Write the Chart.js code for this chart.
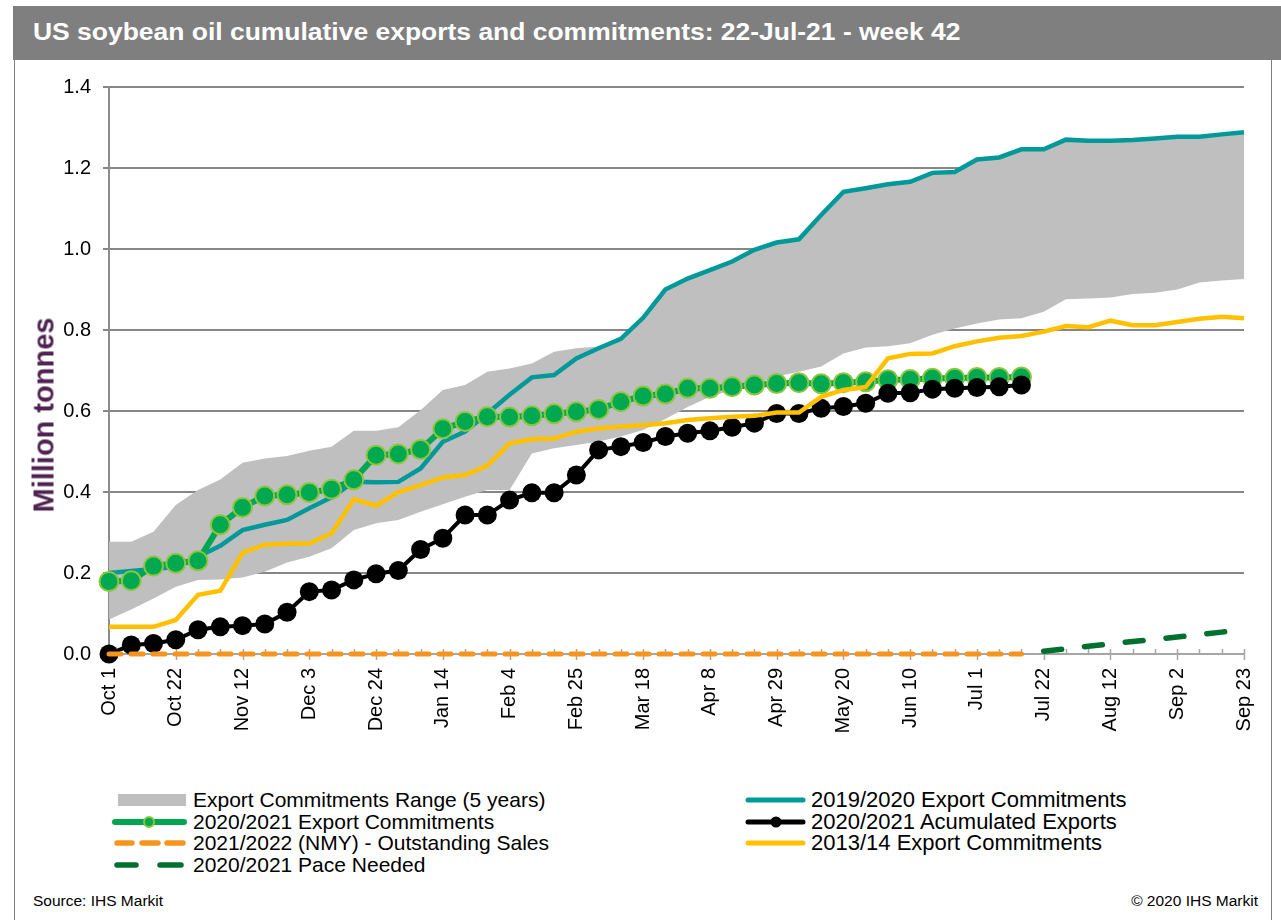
<!DOCTYPE html>
<html>
<head>
<meta charset="utf-8">
<title>US soybean oil cumulative exports and commitments</title>
<script src="https://cdn.jsdelivr.net/npm/chart.js@4.4.1/dist/chart.umd.min.js"></script>
<style>
  body { margin: 0; background: #fff; font-family: "Liberation Sans", Arial, sans-serif; }
  #page { position: relative; width: 1281px; height: 920px; overflow: hidden; }
  #frame { position: absolute; left: 14px; top: 6px; width: 1258px; height: 960px; border: 1.5px solid #7f7f7f; box-sizing: border-box; }
  #titlebar { position: absolute; left: 13px; top: 6px; width: 1268px; height: 54px; background: #7f7f7f; color: #fff;
              font-weight: bold; font-size: 23px; line-height: 53px; padding-left: 20px; box-sizing: border-box; white-space: nowrap; }
  #titlebar span { display: inline-block; transform: scaleX(1.15); transform-origin: 0 50%; }
  #wrap { position: absolute; left: 0; top: 60px; width: 1281px; height: 720px; }
  #ytitle { position: absolute; left: 44px; top: 415px; transform: translate(-50%, -50%) rotate(-90deg);
            font-weight: bold; font-size: 29px; color: #4e2350; white-space: nowrap; }
  .lg { position: absolute; height: 22px; white-space: nowrap; }
  .lg svg { position: absolute; left: 0; top: 0; }
  .lg span { position: absolute; top: 0; line-height: 22px; color: #000; }
  .foot { position: absolute; top: 892px; font-size: 15.5px; color: #000; white-space: nowrap; }
</style>
</head>
<body>
<div id="page">
  <div id="frame"></div>
  <div id="titlebar"><span>US soybean oil cumulative exports and commitments: 22-Jul-21 - week 42</span></div>
  <div id="wrap"><canvas id="myChart" width="1281" height="720"></canvas></div>
  <div id="ytitle">Million tonnes</div>
  <div id="legend"></div>
  <div class="foot" style="left:33px;">Source: IHS Markit</div>
  <div class="foot" style="right:23px;">© 2020 IHS Markit</div>
</div>
<script>
// weekly x axis, Oct 1 .. Sep 23
var weeks = ['Oct 1','Oct 8','Oct 15','Oct 22','Oct 29','Nov 5','Nov 12','Nov 19','Nov 26',
	'Dec 3','Dec 10','Dec 17','Dec 24','Dec 31','Jan 7','Jan 14','Jan 21','Jan 28',
	'Feb 4','Feb 11','Feb 18','Feb 25','Mar 4','Mar 11','Mar 18','Mar 25',
	'Apr 1','Apr 8','Apr 15','Apr 22','Apr 29','May 6','May 13','May 20','May 27',
	'Jun 3','Jun 10','Jun 17','Jun 24','Jul 1','Jul 8','Jul 15','Jul 22','Jul 29',
	'Aug 5','Aug 12','Aug 19','Aug 26','Sep 2','Sep 9','Sep 16','Sep 23'];

var seriesNames = [
	'Export Commitments Range (5 years)',
	'2020/2021 Export Commitments',
	'2021/2022 (NMY) - Outstanding Sales',
	'2020/2021 Pace Needed',
	'2019/2020 Export Commitments',
	'2020/2021 Acumulated Exports',
	'2013/14 Export Commitments'
];

var rangeLow = [0.085,0.11,0.137,0.166,0.183,0.184,0.189,0.203,0.226,0.24,0.261,0.306,0.323,0.331,
	0.351,0.37,0.388,0.405,0.405,0.495,0.508,0.516,0.525,0.537,0.553,0.58,0.61,0.635,0.652,0.664,
	0.685,0.697,0.71,0.742,0.757,0.76,0.767,0.788,0.804,0.816,0.826,0.829,0.845,0.876,0.878,0.88,
	0.889,0.892,0.9,0.917,0.922,0.926];

var rangeHigh = [0.277,0.277,0.302,0.368,0.405,0.431,0.472,0.483,0.489,0.502,0.512,0.551,0.551,0.56,
	0.602,0.652,0.664,0.697,0.705,0.717,0.746,0.755,0.759,0.778,0.83,0.9,0.927,0.948,0.969,0.998,
	1.016,1.024,1.084,1.141,1.15,1.16,1.166,1.188,1.19,1.221,1.226,1.246,1.246,1.27,1.267,1.267,
	1.269,1.273,1.277,1.277,1.283,1.288];

var commit1920 = [0.2,0.205,0.21,0.215,0.24,0.267,0.306,0.319,0.331,0.36,0.387,0.425,0.424,0.425,
	0.458,0.524,0.549,0.594,0.64,0.683,0.689,0.73,0.755,0.778,0.83,0.9,0.927,0.948,0.969,0.998,
	1.016,1.024,1.084,1.141,1.15,1.16,1.166,1.188,1.19,1.221,1.226,1.246,1.246,1.27,1.267,1.267,
	1.269,1.273,1.277,1.277,1.283,1.288];

var commit2021 = [0.179,0.181,0.217,0.224,0.23,0.319,0.362,0.39,0.393,0.399,0.407,0.43,0.491,0.494,
	0.505,0.556,0.574,0.586,0.585,0.588,0.593,0.598,0.604,0.623,0.637,0.642,0.656,0.656,0.66,0.664,
	0.668,0.67,0.667,0.67,0.672,0.677,0.678,0.681,0.681,0.683,0.683,0.684];

var exports2021 = [0,0.022,0.026,0.035,0.06,0.067,0.07,0.074,0.103,0.154,0.158,0.183,0.198,0.206,
	0.258,0.286,0.343,0.343,0.38,0.398,0.398,0.442,0.504,0.512,0.522,0.537,0.545,0.551,0.56,0.57,
	0.594,0.594,0.607,0.611,0.619,0.644,0.645,0.654,0.656,0.658,0.66,0.664];

var commit1314 = [0.067,0.067,0.067,0.084,0.146,0.156,0.25,0.27,0.272,0.273,0.298,0.382,0.366,0.4,
	0.417,0.436,0.442,0.465,0.52,0.53,0.532,0.549,0.557,0.562,0.565,0.57,0.578,0.582,0.586,0.588,
	0.596,0.596,0.635,0.652,0.659,0.73,0.741,0.742,0.76,0.772,0.781,0.785,0.796,0.81,0.807,0.823,
	0.812,0.812,0.82,0.828,0.833,0.829];

var outstanding2122 = [0,0,0,0,0,0,0,0,0,0,0,0,0,0,0,0,0,0,0,0,0,0,0,0,0,0,0,0,0,0,0,0,0,0,0,0,0,0,0,0,0,0];

var paceNeeded = [null,null,null,null,null,null,null,null,null,null,null,null,null,null,
	null,null,null,null,null,null,null,null,null,null,null,null,null,null,null,null,
	null,null,null,null,null,null,null,null,null,null,null,null,
	0.007,0.013,0.019,0.025,0.031,0.036,0.042,0.048,0.054,0.06];

var yTicks = { min: 0, max: 1.4, step: 0.2 };

// small weekly tick marks on the category axis (long ones under the labels)
var weekTicks = {
	id: 'weekTicks',
	beforeDatasetsDraw: function (chart) {
		var ctx = chart.ctx;
		var x = chart.scales.x;
		var bottom = chart.chartArea.bottom;
		ctx.save();
		ctx.strokeStyle = '#a6a6a6';
		ctx.lineWidth = 1.5;
		for (var i = 0; i < x.ticks.length; i++) {
			var px = Math.round(x.getPixelForTick(i)) + 0.5;
			ctx.beginPath();
			ctx.moveTo(px, bottom - 5);
			ctx.lineTo(px, i % 3 === 0 ? bottom + 6 : bottom);
			ctx.stroke();
		}
		ctx.restore();
	}
};

var lineBase = { pointRadius: 0, tension: 0, fill: false, clip: false };

var myChart = new Chart('myChart', {
	type: 'line',
	data: {
		labels: weeks,
		datasets: [
			Object.assign({}, lineBase, { label: 'range low', data: rangeLow, borderWidth: 0, borderColor: 'rgba(0,0,0,0)', order: 10 }),
			Object.assign({}, lineBase, { label: seriesNames[0], data: rangeHigh, borderWidth: 0, borderColor: 'rgba(0,0,0,0)',
				fill: '-1', backgroundColor: '#bfbfbf', order: 9 }),
			Object.assign({}, lineBase, { label: seriesNames[4], data: commit1920, borderColor: '#009999', borderWidth: 4.5, order: 6 }),
			Object.assign({}, lineBase, { label: seriesNames[1], data: commit2021, borderColor: '#00a651', borderWidth: 6,
				pointRadius: 9.5, pointBackgroundColor: '#00a84f', pointBorderColor: '#8cc63f', pointBorderWidth: 2, order: 5 }),
			Object.assign({}, lineBase, { label: seriesNames[5], data: exports2021, borderColor: '#000', borderWidth: 4,
				pointRadius: 9.5, pointBackgroundColor: '#000', pointBorderColor: '#000', pointBorderWidth: 0, order: 4 }),
			Object.assign({}, lineBase, { label: seriesNames[6], data: commit1314, borderColor: '#ffc000', borderWidth: 4.5, order: 3 }),
			Object.assign({}, lineBase, { label: seriesNames[2], data: outstanding2122, borderColor: '#f7941d', borderWidth: 5,
				borderDash: [12, 10], borderCapStyle: 'round', order: 2 }),
			Object.assign({}, lineBase, { label: seriesNames[3], data: paceNeeded, borderColor: '#00702e', borderWidth: 5.5,
				borderDash: [18, 23], borderCapStyle: 'round', order: 1 })
		]
	},
	options: {
		responsive: false,
		animation: false,
		devicePixelRatio: 1,
		events: [],
		layout: { padding: { left: 0, right: 37, top: 27, bottom: 0 } },
		plugins: { legend: { display: false }, tooltip: { enabled: false } },
		scales: {
			x: {
				offset: false,
				afterFit: function (scale) { scale.height = 126; },
				grid: { drawOnChartArea: false, drawTicks: true, tickLength: 10, color: 'rgba(0,0,0,0)' },
				border: { color: '#a6a6a6', width: 2 },
				ticks: {
					autoSkip: false, maxRotation: 90, minRotation: 90, padding: 4,
					color: '#000', font: { family: '"Liberation Sans", Arial, sans-serif', size: 20 },
					callback: function (v, i) { return i % 3 === 0 ? weeks[i] : ''; }
				}
			},
			y: {
				min: yTicks.min, max: yTicks.max,
				afterFit: function (scale) { scale.width = 109; },
				grid: {
					color: function (c) { return (c.tick && c.tick.value === 0) ? 'rgba(0,0,0,0)' : '#868686'; },
					lineWidth: 2, tickLength: 6
				},
				border: { color: '#8c8c8c', width: 2 },
				ticks: {
					stepSize: yTicks.step, padding: 12, color: '#000',
					font: { family: '"Liberation Sans", Arial, sans-serif', size: 20 },
					callback: function (v) { return v.toFixed(1); }
				}
			}
		}
	},
	plugins: [weekTicks]
});

// two-column legend, same layout as the original
var legendItems = [
	{ name: seriesNames[0], left: 112, text: 81, size: 21, top: 789, svg: '<rect x="6" y="5" width="68" height="12" fill="#bfbfbf"/>' },
	{ name: seriesNames[1], left: 112, text: 81, size: 21, top: 810.5, svg: '<line x1="3" y1="11" x2="72" y2="11" stroke="#00a651" stroke-width="6" stroke-linecap="round"/><circle cx="37" cy="11" r="5" fill="#00a84f" stroke="#8cc63f" stroke-width="2"/>' },
	{ name: seriesNames[2], left: 112, text: 81, size: 21, top: 832, svg: '<g stroke="#f7941d" stroke-width="5.5" stroke-linecap="round"><line x1="5" y1="11" x2="20" y2="11"/><line x1="30" y1="11" x2="46" y2="11"/><line x1="55" y1="11" x2="71" y2="11"/></g>' },
	{ name: seriesNames[3], left: 112, text: 81, size: 21, top: 853.5, svg: '<g stroke="#00702e" stroke-width="5.5" stroke-linecap="round"><line x1="5" y1="11" x2="24" y2="11"/><line x1="48" y1="11" x2="69" y2="11"/></g>' },
	{ name: seriesNames[4], left: 745, text: 66, size: 22, top: 789, svg: '<line x1="3" y1="11" x2="58" y2="11" stroke="#009999" stroke-width="5" stroke-linecap="round"/>' },
	{ name: seriesNames[5], left: 745, text: 66, size: 22, top: 810.5, svg: '<line x1="3" y1="11" x2="58" y2="11" stroke="#000" stroke-width="5" stroke-linecap="round"/><circle cx="31" cy="11" r="5.5" fill="#000"/>' },
	{ name: seriesNames[6], left: 745, text: 66, size: 22, top: 832, svg: '<line x1="3" y1="11" x2="58" y2="11" stroke="#ffc000" stroke-width="5" stroke-linecap="round"/>' }
];

var html = '';
for (var i = 0; i < legendItems.length; i++) {
	var it = legendItems[i];
	html += '<div class="lg" style="left:' + it.left + 'px;top:' + it.top + 'px;">' +
		'<svg width="80" height="22">' + it.svg + '</svg>' +
		'<span style="left:' + it.text + 'px;font-size:' + it.size + 'px;">' + it.name + '</span></div>';
}
document.getElementById('legend').innerHTML = html;
</script>
</body>
</html>
